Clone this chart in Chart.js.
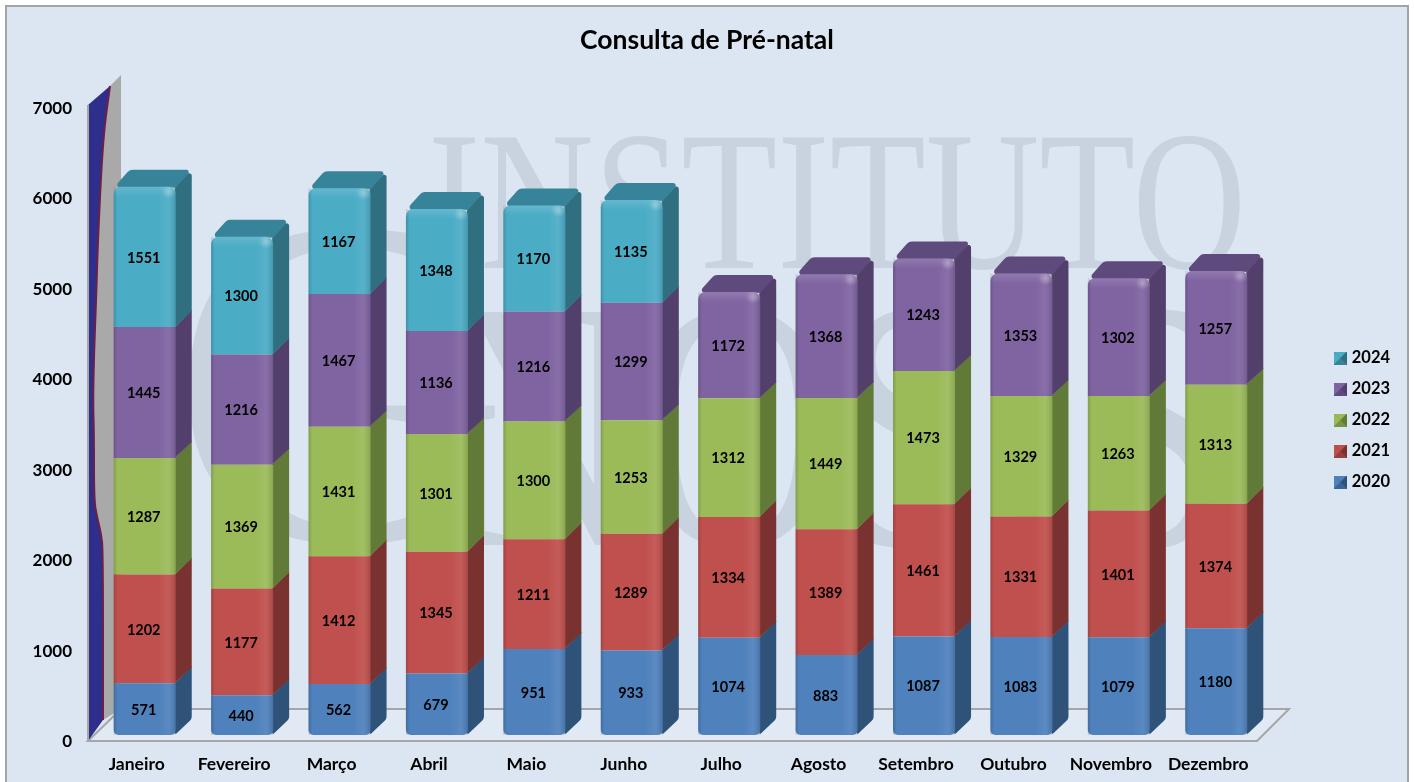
<!DOCTYPE html>
<html lang="pt">
<head>
    <meta charset="UTF-8">
    <title>Consulta de Pré-natal</title>
    <script src="https://cdn.jsdelivr.net/npm/chart.js"></script>
    <style>
        html, body {
            margin: 0;
            height: 100%;
            overflow: hidden;
            background: #fff;
        }
        #panel {
            position: absolute;
            left: 5px;
            top: 5px;
            width: 1400px;
            height: 790px;
            background: #dce6f2;
            border: 2px solid #a3a3a3;
        }
        #chart {
            position: absolute;
            left: 0;
            top: 0;
        }
    </style>
</head>
<body>
    <div id="panel"></div>
    <canvas id="chart" width="1414" height="782"></canvas>
    <script>
        const meses = ['Janeiro', 'Fevereiro', 'Março', 'Abril', 'Maio', 'Junho', 'Julho', 'Agosto', 'Setembro', 'Outubro', 'Novembro', 'Dezembro'];
        const v2020 = [571, 440, 562, 679, 951, 933, 1074, 883, 1087, 1083, 1079, 1180];
        const v2021 = [1202, 1177, 1412, 1345, 1211, 1289, 1334, 1389, 1461, 1331, 1401, 1374];
        const v2022 = [1287, 1369, 1431, 1301, 1300, 1253, 1312, 1449, 1473, 1329, 1263, 1313];
        const v2023 = [1445, 1216, 1467, 1136, 1216, 1299, 1172, 1368, 1243, 1353, 1302, 1257];
        const v2024 = [1551, 1300, 1167, 1348, 1170, 1135, null, null, null, null, null, null];

        const frente = ['#4f81bd', '#c0504d', '#9bbb59', '#8064a2', '#4bacc6'];
        const lado = ['#2f5279', '#7a3230', '#627a37', '#523f6c', '#2f6f80'];
        const tampa = ['#3a6596', '#964040', '#7a9445', '#5f4a7d', '#37839a'];

        const prof = 16; // profundidade do efeito 3D

        function iconeLegenda(i) {
            const c = document.createElement('canvas');
            c.width = 13;
            c.height = 13;
            const g = c.getContext('2d');
            const tri = (pts, cor) => {
                g.fillStyle = cor;
                g.beginPath();
                pts.forEach(p => g.lineTo(p[0], p[1]));
                g.closePath();
                g.fill();
            };
            g.fillStyle = lado[i];
            g.fillRect(0, 0, 13, 13);
            tri([[0, 0], [13, 0], [6.5, 6.5]], frente[i]);
            tri([[0, 0], [0, 13], [6.5, 6.5]], frente[i]);
            tri([[13, 0], [13, 13], [6.5, 6.5]], lado[i]);
            tri([[0, 13], [13, 13], [6.5, 6.5]], tampa[i]);
            return c;
        }
        const icones = frente.map((c, i) => iconeLegenda(i));

        // raios: um valor por vértice
        function poligonoRedondo(ctx, pts, raios) {
            const n = pts.length;
            ctx.beginPath();
            ctx.moveTo((pts[n - 1][0] + pts[0][0]) / 2, (pts[n - 1][1] + pts[0][1]) / 2);
            for (let i = 0; i < n; i++) {
                const a = pts[i];
                const b = pts[(i + 1) % n];
                ctx.arcTo(a[0], a[1], (a[0] + b[0]) / 2, (a[1] + b[1]) / 2, raios[i]);
            }
            ctx.closePath();
        }

        function curvaSuave(ctx, pts, L, B) {
            for (let i = 0; i < pts.length - 1; i++) {
                const mx = (pts[i][0] + pts[i + 1][0]) / 2;
                const my = (pts[i][1] + pts[i + 1][1]) / 2;
                ctx.quadraticCurveTo(L + pts[i][0], B + pts[i][1], L + mx, B + my);
            }
            const u = pts[pts.length - 1];
            ctx.lineTo(L + u[0], B + u[1]);
        }

        // Marca d'água, chão e parede do gráfico
        const fundo3d = {
            id: 'fundo3d',
            beforeDatasetsDraw(chart) {
                const { ctx, chartArea: a } = chart;
                const L = a.left - 8;
                const B = a.bottom + 6;
                ctx.save();

                ctx.fillStyle = '#c9d3df';
                ctx.textBaseline = 'alphabetic';
                ctx.font = '200px "Liberation Serif"';
                ctx.fillText('INSTITUTO', 428, 268, 818);
                ctx.font = '470px "Liberation Serif"';
                ctx.fillText('G', 170, 540);
                ctx.font = '356px "Liberation Serif"';
                ctx.fillText('NOSIS', 440, 545, 790);

                // chão
                ctx.beginPath();
                ctx.moveTo(L, B);
                ctx.lineTo(L + 1169, B);
                ctx.lineTo(L + 1201, B - 32);
                ctx.lineTo(L + 33, B - 32);
                ctx.closePath();
                ctx.fillStyle = '#e1e9f4';
                ctx.fill();
                ctx.strokeStyle = '#a6a6a6';
                ctx.lineWidth = 2;
                ctx.stroke();

                // borda ondulada da parede, de cima para baixo
                const borda = [[22, -655], [15, -604], [10, -504], [8, -438], [6, -388], [5, -338], [6, -308], [6, -241], [9, -224], [13, -208], [15, -191], [15, -21]];
                const bordaInv = borda.slice().reverse();
                ctx.beginPath();
                ctx.moveTo(L + 22, B - 655);
                ctx.lineTo(L + 33, B - 666);
                ctx.lineTo(L + 33, B - 32);
                ctx.lineTo(L + 15, B - 21);
                curvaSuave(ctx, bordaInv, L, B);
                ctx.closePath();
                ctx.fillStyle = '#a9a9a9';
                ctx.fill();

                ctx.beginPath();
                ctx.moveTo(L, B - 636);
                ctx.lineTo(L + 22, B - 655);
                curvaSuave(ctx, borda, L, B);
                ctx.lineTo(L, B);
                ctx.closePath();
                ctx.fillStyle = '#2e2e8c';
                ctx.fill();

                ctx.beginPath();
                ctx.moveTo(L + 22, B - 655);
                curvaSuave(ctx, borda, L, B);
                ctx.strokeStyle = '#6d1f47';
                ctx.lineWidth = 2;
                ctx.stroke();

                ctx.fillStyle = '#a6a6a6';
                ctx.fillRect(L - 1, B - 636, 2, 636);

                // lados e tampas das barras
                chart.data.datasets.forEach((ds, i) => {
                    chart.getDatasetMeta(i).data.forEach((bar, j) => {
                        if (ds.data[j] == null) return;
                        const xr = bar.x + bar.width / 2;
                        const xl = bar.x - bar.width / 2;
                        const topo = i === ultimaSerie(j);
                        ctx.fillStyle = lado[i];
                        poligonoRedondo(ctx, [[xr - 1, bar.y], [xr + prof, bar.y - prof - 1], [xr + prof, bar.base - prof], [xr - 1, bar.base]],
                            [0, topo ? 2.5 : 0, i === 0 ? 6 : 0, i === 0 ? 1 : 0]);
                        ctx.fill();
                        if (topo) {
                            ctx.fillStyle = tampa[i];
                            poligonoRedondo(ctx, [[xl, bar.y + 1], [xl + prof, bar.y - prof - 1], [xr + prof, bar.y - prof - 1], [xr, bar.y + 1]], [3, 7, 2.5, 0]);
                            ctx.fill();
                        }
                    });
                });
                ctx.restore();
            },
            afterDatasetsDraw(chart) {
                const { ctx } = chart;
                ctx.save();
                chart.data.datasets.forEach((ds, i) => {
                    chart.getDatasetMeta(i).data.forEach((bar, j) => {
                        if (ds.data[j] == null) return;
                        const xl = bar.x - bar.width / 2;
                        const w = bar.width;
                        // brilho da frente
                        const g = ctx.createLinearGradient(xl, 0, xl + w, 0);
                        g.addColorStop(0, 'rgba(0,0,0,0.16)');
                        g.addColorStop(0.06, 'rgba(0,0,0,0)');
                        g.addColorStop(0.72, 'rgba(255,255,255,0)');
                        g.addColorStop(0.88, 'rgba(255,255,255,0.07)');
                        g.addColorStop(1, 'rgba(0,0,0,0.12)');
                        ctx.fillStyle = g;
                        const topo = i === ultimaSerie(j);
                        const h = bar.base - bar.y;
                        ctx.beginPath();
                        ctx.roundRect(xl, bar.y, w, h, { tl: topo ? 7 : 0, tr: topo ? 7 : 0, bl: i === 0 ? 5 : 0, br: i === 0 ? 5 : 0 });
                        ctx.fill();
                        if (topo) {
                            const gt = ctx.createLinearGradient(0, bar.y, 0, bar.y + 10);
                            gt.addColorStop(0, 'rgba(255,255,255,0.14)');
                            gt.addColorStop(1, 'rgba(255,255,255,0)');
                            ctx.fillStyle = gt;
                            ctx.beginPath();
                            ctx.roundRect(xl, bar.y, w, 10, { tl: 7, tr: 7, bl: 0, br: 0 });
                            ctx.fill();
                            const gs = ctx.createRadialGradient(xl + w - 7, bar.y + 5, 0, xl + w - 7, bar.y + 5, 7);
                            gs.addColorStop(0, 'rgba(255,255,255,0.28)');
                            gs.addColorStop(1, 'rgba(255,255,255,0)');
                            ctx.fillStyle = gs;
                            ctx.fillRect(xl + w - 14, bar.y, 14, 12);
                        }
                        // valor
                        ctx.fillStyle = '#000';
                        ctx.font = 'bold 14.5px Lato';
                        ctx.textAlign = 'center';
                        ctx.textBaseline = 'middle';
                        ctx.fillText(ds.data[j], bar.x - 1, (bar.y + bar.base) / 2 + 1);
                    });
                });
                ctx.restore();
            },
            afterLayout(chart) {
                // legenda afastada da área do gráfico, título centrado na janela
                const leg = chart.legend;
                const w = leg.right - leg.left;
                leg.left = 1323;
                leg.right = leg.left + w;
                leg.top += 2;
                leg.bottom += 2;
                chart.titleBlock.left = 0;
                chart.titleBlock.right = chart.width;
            }
        };

        const series = [v2020, v2021, v2022, v2023, v2024];
        function ultimaSerie(j) {
            let k = 0;
            series.forEach((s, i) => { if (s[j] != null) k = i; });
            return k;
        }

        const ctx = document.getElementById('chart').getContext('2d');
        Chart.defaults.font.family = 'Lato';
        Chart.defaults.color = '#000';

        new Chart(ctx, {
            type: 'bar',
            data: {
                labels: meses,
                datasets: series.map((s, i) => ({
                    label: String(2020 + i),
                    data: s,
                    backgroundColor: frente[i],
                    borderWidth: 0,
                    barPercentage: 0.637,
                    categoryPercentage: 1,
                    borderSkipped: false,
                    borderRadius: c => {
                        const topo = i === ultimaSerie(c.dataIndex) ? 7 : 0;
                        const base = i === 0 ? 5 : 0;
                        return { topLeft: topo, topRight: topo, bottomLeft: base, bottomRight: base };
                    }
                }))
            },
            plugins: [fundo3d],
            options: {
                responsive: false,
                animation: false,
                layout: { padding: { left: 0, right: 72 } },
                plugins: {
                    title: {
                        display: true,
                        text: 'Consulta de Pré-natal',
                        color: '#000',
                        font: { size: 26.5, weight: 'bold', lineHeight: 1.2 },
                        padding: { top: 25, bottom: 44.4 }
                    },
                    legend: {
                        position: 'right',
                        fullSize: false,
                        reverse: true,
                        labels: {
                            usePointStyle: true,
                            boxWidth: 6,
                            boxHeight: 13,
                            padding: 14.5,
                            color: '#000',
                            font: { size: 16.5, weight: 'bold' },
                            generateLabels(chart) {
                                const itens = Chart.defaults.plugins.legend.labels.generateLabels(chart);
                                itens.forEach(it => { it.pointStyle = icones[it.datasetIndex]; });
                                return itens;
                            }
                        }
                    },
                    tooltip: { enabled: false }
                },
                scales: {
                    x: {
                        stacked: true,
                        afterFit(scale) { scale.height = 47; },
                        grid: { display: false },
                        border: { display: false },
                        ticks: {
                            autoSkip: false,
                            maxRotation: 0,
                            padding: 11,
                            labelOffset: -8,
                            font: { size: 17.5, weight: 'bold' }
                        }
                    },
                    y: {
                        stacked: true,
                        min: 0,
                        max: 7000,
                        afterFit(scale) { scale.width = 96; },
                        grid: { display: false },
                        border: { display: false },
                        ticks: {
                            stepSize: 1000,
                            padding: 16,
                            labelOffset: 7,
                            callback: v => String(v),
                            font: { size: 17, weight: 'bold' }
                        }
                    }
                }
            }
        });
    </script>
</body>
</html>
